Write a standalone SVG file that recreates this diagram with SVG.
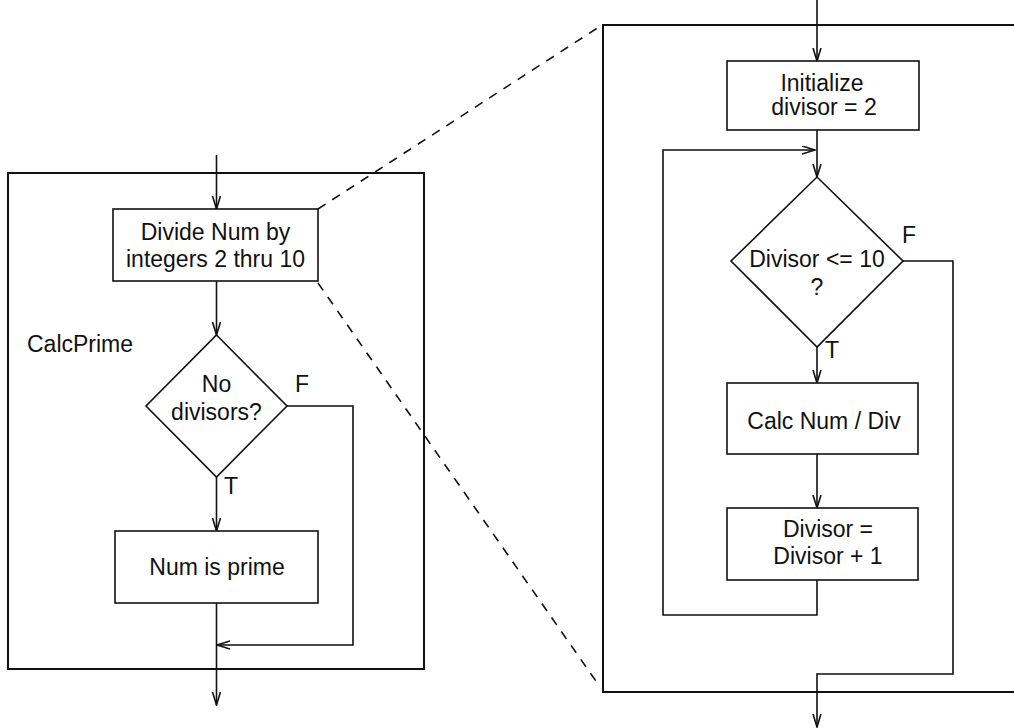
<svg xmlns="http://www.w3.org/2000/svg" width="1014" height="728" viewBox="0 0 1014 728">
<style>
text{font-family:"Liberation Sans",Arial,Helvetica,sans-serif;font-size:23px;fill:#111}
.c{text-anchor:middle}
.frame{fill:none;stroke:#111;stroke-width:2}
.box{fill:#fff;stroke:#111;stroke-width:1.6}
.ln{fill:none;stroke:#111;stroke-width:1.6}
.ar{marker-end:url(#arr)}
.dash{fill:none;stroke:#111;stroke-width:1.6;stroke-dasharray:9 8}
</style>
<defs>
<marker id="arr" markerUnits="userSpaceOnUse" markerWidth="14" markerHeight="10" refX="13" refY="4.5" orient="auto" viewBox="0 0 14 10">
<path d="M0,0.5 L13,4.5 L0,8.5" fill="none" stroke="#111" stroke-width="1.6"/>
</marker>
</defs>
<rect width="1014" height="728" fill="#fff"/>
<g id="frames">
<rect id="calcprime-frame" class="frame" x="8" y="173" width="416" height="496"/>
<path id="detail-frame" class="frame" d="M1016,25 H603 V692 H1016"/>
</g>
<g id="connectors">
<line class="ln ar" x1="216.5" y1="155" x2="216.5" y2="209"/>
<line class="ln ar" x1="216.5" y1="281" x2="216.5" y2="335"/>
<line class="ln ar" x1="216.5" y1="477" x2="216.5" y2="531"/>
<line class="ln ar" x1="216.5" y1="603" x2="216.5" y2="705"/>
<polyline class="ln ar" points="287,406 353,406 353,645 217,645"/>
<line class="ln ar" x1="817" y1="0" x2="817" y2="61"/>
<line class="ln ar" x1="817" y1="130" x2="817" y2="177"/>
<polyline class="ln ar" points="817,580 817,615 663,615 663,150 815,150"/>
<line class="ln ar" x1="817" y1="347" x2="817" y2="383"/>
<line class="ln ar" x1="817" y1="454" x2="817" y2="508"/>
<polyline class="ln ar" points="903,261 953,261 953,674 817,674 817,727"/>
<line class="dash" x1="318" y1="209" x2="602" y2="25"/>
<line class="dash" x1="318" y1="283" x2="598" y2="684"/>
</g>
<g id="label-calcprime"><text x="27" y="352">CalcPrime</text></g>
<g id="divide">
<rect class="box" x="113" y="209" width="205" height="72"/>
<text class="c" x="215.5" y="240">Divide Num by</text>
<text class="c" x="215.5" y="267">integers 2 thru 10</text>
</g>
<g id="no-divisors">
<polygon class="box" points="216.5,335 287,406 216.5,477 146,406"/>
<text class="c" x="216.5" y="392">No</text>
<text class="c" x="216.5" y="420">divisors?</text>
<text x="295" y="392">F</text>
<text x="224" y="494">T</text>
</g>
<g id="num-is-prime">
<rect class="box" x="115" y="531" width="203" height="72"/>
<text class="c" x="217" y="575">Num is prime</text>
</g>
<g id="initialize">
<rect class="box" x="727" y="61" width="192" height="69"/>
<text class="c" x="822" y="91">Initialize</text>
<text class="c" x="824" y="115">divisor = 2</text>
</g>
<g id="divisor-test">
<polygon class="box" points="817,177 903,261 817,347 731,261"/>
<text class="c" x="817" y="267">Divisor &lt;= 10</text>
<text class="c" x="817" y="295">?</text>
<text x="902" y="243">F</text>
<text x="825" y="358">T</text>
</g>
<g id="calc-num-div">
<rect class="box" x="727" y="383" width="191" height="71"/>
<text class="c" x="824" y="429">Calc Num / Div</text>
</g>
<g id="increment">
<rect class="box" x="727" y="508" width="191" height="72"/>
<text class="c" x="828" y="537">Divisor =</text>
<text class="c" x="828" y="564">Divisor + 1</text>
</g>
</svg>
